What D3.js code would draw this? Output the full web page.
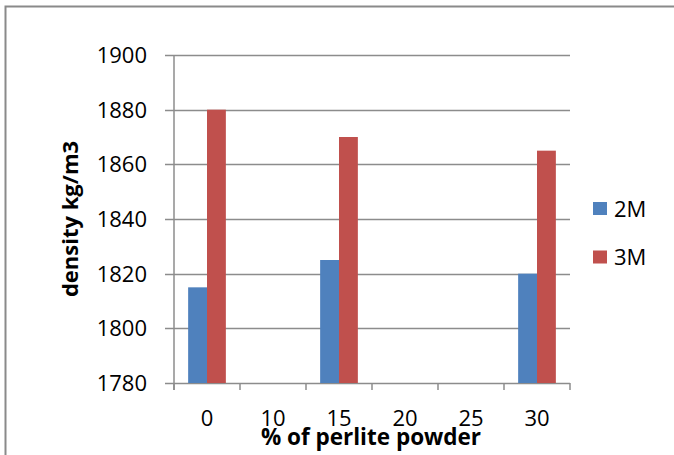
<!DOCTYPE html>
<html><head><meta charset="utf-8">
<script src="https://cdn.jsdelivr.net/npm/d3@7"></script>
<style>body{margin:0;background:#fff;}svg{display:block;}text{font-family:"Open Sans","Liberation Sans",sans-serif;fill:#000;}</style>
</head><body>
<svg id="c" width="674" height="455"></svg>
<script>
const categories = ["0","10","15","20","25","30"];
const seriesNames = ["2M","3M"];
const values2M = [1815, null, 1825, null, null, 1820];
const values3M = [1880, null, 1870, null, null, 1865];
const yTicks = [1780,1800,1820,1840,1860,1880,1900];
const colors = ["#4F81BD","#C0504D"];

const svg = d3.select("#c");
const L = 174, R = 570, T = 55, B = 383;

svg.append("rect").attr("x",5.5).attr("y",6.5).attr("width",720).attr("height",520)
  .attr("fill","none").attr("stroke","#8a8a8a").attr("stroke-width",2);

const x = d3.scaleBand().domain(categories).range([L,R]).padding(0);
const y = d3.scaleLinear().domain([1780,1900]).range([B,T]);
const bw = x.bandwidth();
const gap = bw * 1.5 / 3.5 / 2;
const xs = d3.scaleBand().domain(seriesNames).range([gap, bw-gap]).padding(0);

// gridlines
svg.append("g").selectAll("line").data(yTicks).join("line")
  .attr("x1",L-9).attr("x2",R).attr("y1",d=>Math.round(y(d))+0.5).attr("y2",d=>Math.round(y(d))+0.5)
  .attr("stroke","#8c8c8c").attr("stroke-width",1.5);

// bars
const data = [values2M, values3M];
data.forEach((vals,si)=>{
  svg.append("g").selectAll("rect").data(categories.map((c,i)=>({c,v:vals[i]})).filter(d=>d.v!=null))
    .join("rect")
    .attr("x",d=>x(d.c)+xs(seriesNames[si]))
    .attr("width",xs.bandwidth())
    .attr("y",d=>y(d.v)).attr("height",d=>B-y(d.v))
    .attr("fill",colors[si]);
});

// y axis line
svg.append("line").attr("x1",L).attr("x2",L).attr("y1",T).attr("y2",B+7)
  .attr("stroke","#8c8c8c").attr("stroke-width",1.5);
// x axis ticks
const bounds = categories.map(c=>x(c)).concat([R]);
svg.append("g").selectAll("line").data(bounds).join("line")
  .attr("x1",d=>d).attr("x2",d=>d).attr("y1",B).attr("y2",B+7)
  .attr("stroke","#8c8c8c").attr("stroke-width",1.5);

// y tick labels
svg.append("g").selectAll("text").data(yTicks).join("text")
  .attr("x",147).attr("y",d=>y(d)).attr("dy","0.36em").attr("text-anchor","end")
  .style("font-size","22px").text(d=>d);

// x tick labels
svg.append("g").selectAll("text").data(categories).join("text")
  .attr("x",d=>x(d)+bw/2).attr("y",426).attr("text-anchor","middle")
  .style("font-size","22px").text(d=>d);

// axis titles
svg.append("text").attr("x",371).attr("y",445).attr("text-anchor","middle")
  .style("font-size","22.5px").style("font-weight","bold").text("% of perlite powder");
svg.append("text").attr("transform","translate(78,219) rotate(-90)").attr("text-anchor","middle")
  .style("font-size","22px").style("font-weight","bold").text("density kg/m3");

// legend
const lg = svg.append("g");
seriesNames.forEach((s,i)=>{
  const yy = 202 + i*48.5;
  lg.append("rect").attr("x",593).attr("y",yy).attr("width",14).attr("height",13).attr("fill",colors[i]);
  lg.append("text").attr("x",614).attr("y",yy+14.5).style("font-size","22px").text(s);
});
</script>
</body></html>
